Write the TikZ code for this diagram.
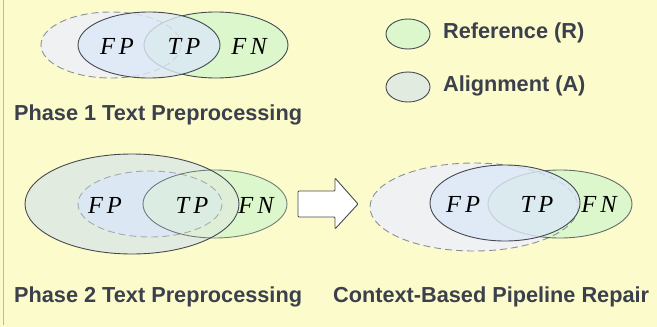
\documentclass[tikz,border=0pt]{standalone}
\usepackage{fontspec}
\setsansfont{Liberation Sans}
\newfontfamily\setfont{Liberation Serif}
\definecolor{bg}{HTML}{FCFBCB}
\definecolor{txt}{HTML}{3B404C}
\definecolor{edge}{HTML}{454A52}
\definecolor{dashc}{HTML}{8A9096}
\definecolor{gfill}{HTML}{DBF7CB}
\definecolor{bfill}{HTML}{DCE7F7}
\definecolor{afill}{HTML}{F0F1F2}
\definecolor{alfill}{HTML}{E2EBE0}
\definecolor{frame}{HTML}{B8B8B0}
\tikzset{
  lbl/.style={font=\fontsize{21.7}{24}\selectfont\sffamily\bfseries, text=txt, inner sep=0pt, anchor=west},
  setlbl/.style={font=\fontsize{24.5}{26}\selectfont\setfont\itshape, inner sep=0pt, text=black},
  solidedge/.style={draw=edge, line width=0.9pt},
  dashedge/.style={draw=dashc, line width=0.9pt, dash pattern=on 7pt off 4pt},
}
\begin{document}
\begin{tikzpicture}[x=1pt,y=-1pt]
\useasboundingbox (0,0) rectangle (657,327);
\fill[bg] (0,0) rectangle (657,327);
\draw[frame, line width=1pt] (3,0) -- (3,325);

% ---- Phase 1 Venn ----
\fill[afill] (111,45) ellipse [x radius=70, y radius=33];
\fill[gfill] (216,45) ellipse [x radius=72, y radius=33];
\draw[dashedge] (111,45) ellipse [x radius=70, y radius=33];
\draw[solidedge] (216,45) ellipse [x radius=72, y radius=33];
\fill[bfill, fill opacity=0.8] (149,45) ellipse [x radius=71, y radius=33];
\draw[solidedge] (149,45) ellipse [x radius=71, y radius=33];
\node[setlbl] (fp1) at (117,46) {F\kern4pt P};
\node[setlbl] (tp1) at (184,46) {T\kern4pt P};
\node[setlbl] (fn1) at (249,46) {F\kern4pt N};

% ---- Legend ----
\fill[gfill] (408,34) ellipse [x radius=22, y radius=15];
\draw[solidedge] (408,34) ellipse [x radius=22, y radius=15];
\fill[alfill] (408,87) ellipse [x radius=22, y radius=15];
\draw[solidedge] (408,87) ellipse [x radius=22, y radius=15];
\node[lbl] (refl) at (443,33) {Reference (R)};
\node[lbl] (alil) at (443,86) {Alignment (A)};

\node[lbl] (ph1) at (14,115) {Phase 1 Text Preprocessing};

% ---- Phase 2 Venn ----
\fill[gfill] (215,204) ellipse [x radius=72, y radius=34];
\fill[alfill] (132,204) ellipse [x radius=107, y radius=50];
\fill[bfill, fill opacity=0.9] (150,204) ellipse [x radius=72, y radius=33];
\fill[gfill, fill opacity=0.4] (215,204) ellipse [x radius=72, y radius=34];
\draw[dashedge, draw opacity=0.7] (150,204) ellipse [x radius=72, y radius=33];
\draw[solidedge, draw opacity=0.7] (215,204) ellipse [x radius=72, y radius=34];
\draw[solidedge] (132,204) ellipse [x radius=107, y radius=50];
\node[setlbl] (fp2) at (105,205) {F\kern4pt P};
\node[setlbl] (tp2) at (192,205) {T\kern4pt P};
\node[setlbl] (fn2) at (256,205) {F\kern4pt N};

% ---- Arrow ----
\draw[solidedge, fill=white, rounded corners=1pt] (298,191) -- (335,191) -- (335,178) -- (358,204) -- (335,229) -- (335,217) -- (298,217) -- cycle;

% ---- Repair Venn ----
\fill[afill] (474,207) ellipse [x radius=104, y radius=44];
\fill[gfill] (560,204) ellipse [x radius=72, y radius=34];
\draw[dashedge] (474,207) ellipse [x radius=104, y radius=44];
\draw[solidedge, draw opacity=0.8] (560,204) ellipse [x radius=72, y radius=34];
\fill[bfill, fill opacity=0.8] (505,203) ellipse [x radius=75, y radius=38];
\draw[solidedge] (505,203) ellipse [x radius=75, y radius=38];
\node[setlbl] (fp3) at (463,204) {F\kern4pt P};
\node[setlbl] (tp3) at (537,204) {T\kern4pt P};
\node[setlbl] (fn3) at (599,204) {F\kern4pt N};

\node[lbl] (ph2) at (14,297) {Phase 2 Text Preprocessing};
\node[lbl] (cbr) at (333,297) {Context-Based Pipeline Repair};
\end{tikzpicture}
\end{document}
